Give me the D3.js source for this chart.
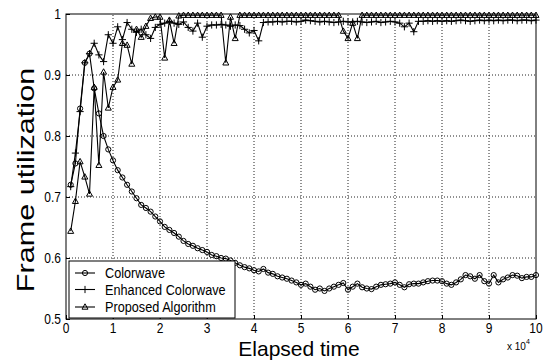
<!DOCTYPE html>
<html>
<head>
<meta charset="utf-8">
<script src="https://d3js.org/d3.v7.min.js"></script>
<style>
  body { margin: 0; background: #fff; }
  svg { display: block; font-family: "Liberation Sans", Arial, sans-serif; }
  .grid line { stroke: #222; stroke-dasharray: 1,2; stroke-width: 1; }
  .series path.line { fill: none; stroke: #000; stroke-width: 1.1; }
  .mark { fill: none; stroke: #000; stroke-width: 1; }
</style>
</head>
<body>
<div id="chart"></div>
<script>
// sample times (every 1000 units)
const elapsed = d3.range(1, 101).map(i => i * 1000);

const colorwave = [
  0.720, 0.755, 0.845, 0.920, 0.935, 0.878, 0.837, 0.800, 0.778, 0.760,
  0.744, 0.732, 0.720, 0.709, 0.698, 0.687, 0.682, 0.676, 0.668, 0.660,
  0.651, 0.646, 0.641, 0.635, 0.628, 0.623, 0.620, 0.616, 0.613, 0.610,
  0.605, 0.603, 0.600, 0.599, 0.596, 0.592, 0.588, 0.585, 0.583, 0.580,
  0.578, 0.582, 0.576, 0.574, 0.570, 0.568, 0.566, 0.563, 0.560, 0.556,
  0.558, 0.553, 0.548, 0.550, 0.546, 0.550, 0.553, 0.556, 0.559, 0.548,
  0.553, 0.558, 0.552, 0.550, 0.549, 0.553, 0.556, 0.557, 0.558, 0.560,
  0.556, 0.552, 0.557, 0.558, 0.558, 0.560, 0.562, 0.563, 0.563, 0.562,
  0.558, 0.556, 0.560, 0.565, 0.572, 0.570, 0.566, 0.572, 0.562, 0.558,
  0.572, 0.560, 0.565, 0.568, 0.572, 0.571, 0.567, 0.569, 0.569, 0.572
];

const enhanced = [
  0.717, 0.772, 0.840, 0.920, 0.935, 0.952, 0.933, 0.922, 0.966, 0.952,
  0.979, 0.958, 0.986, 0.975, 0.970, 0.975, 0.966, 0.960, 0.978, 0.983,
  0.985, 0.988, 0.985, 0.983, 0.987, 0.978, 0.972, 0.985, 0.962, 0.980,
  0.982, 0.982, 0.983, 0.982, 0.980, 0.982, 0.981, 0.975, 0.969, 0.973,
  0.956, 0.986, 0.987, 0.987, 0.988, 0.987, 0.988, 0.988, 0.987, 0.988,
  0.990, 0.989, 0.988, 0.987, 0.988, 0.987, 0.986, 0.987, 0.988, 0.987,
  0.987, 0.988, 0.987, 0.986, 0.987, 0.988, 0.986, 0.987, 0.988, 0.987,
  0.985, 0.979, 0.985, 0.971, 0.988, 0.988, 0.989, 0.988, 0.989, 0.988,
  0.989, 0.988, 0.989, 0.990, 0.989, 0.988, 0.989, 0.990, 0.989, 0.990,
  0.989, 0.990, 0.989, 0.990, 0.990, 0.989, 0.990, 0.990, 0.989, 0.990
];

const proposed = [
  0.644, 0.693, 0.758, 0.733, 0.705, 0.880, 0.752, 0.905, 0.846, 0.880,
  0.892, 0.952, 0.949, 0.918, 0.975, 0.962, 0.980, 0.993, 0.995, 0.995,
  0.928, 0.990, 0.952, 0.997, 0.998, 0.998, 0.998, 0.998, 0.998, 0.998,
  0.998, 0.998, 0.998, 0.920, 0.995, 0.960, 0.998, 0.998, 0.998, 0.998,
  0.998, 0.998, 0.998, 0.998, 0.998, 0.998, 0.998, 0.998, 0.998, 0.998,
  0.998, 0.998, 0.998, 0.998, 0.998, 0.998, 0.998, 0.998, 0.972, 0.960,
  0.985, 0.960, 0.998, 0.998, 0.998, 0.998, 0.998, 0.998, 0.998, 0.998,
  0.998, 0.998, 0.998, 0.998, 0.998, 0.998, 0.998, 0.998, 0.998, 0.998,
  0.998, 0.998, 0.998, 0.998, 0.998, 0.998, 0.998, 0.998, 0.998, 0.998,
  0.998, 0.998, 0.998, 0.998, 0.998, 0.998, 0.998, 0.998, 0.998, 0.998
];

const seriesNames = ["Colorwave", "Enhanced Colorwave", "Proposed Algorithm"];
const seriesMarkers = ["circle", "plus", "triangle"];
const xTicks = [0, 1, 2, 3, 4, 5, 6, 7, 8, 9, 10].map(v => v * 1e4);
const yTicks = [0.5, 0.6, 0.7, 0.8, 0.9, 1];

let w = 547, h = 361;
let m = { left: 66, top: 14, right: 11, bottom: 42 };

let svg = d3.select("#chart").append("svg")
    .attr("width", w)
    .attr("height", h);

let x = d3.scaleLinear().domain([0, 1e5]).range([m.left, w - m.right]);
let y = d3.scaleLinear().domain([0.5, 1]).range([h - m.bottom, m.top]);

// dotted grid
let grid = svg.append("g").attr("class", "grid");
grid.selectAll("line.vx")
    .data(xTicks.slice(1, -1))
    .enter().append("line")
    .attr("x1", d => x(d)).attr("x2", d => x(d))
    .attr("y1", y(0.5)).attr("y2", y(1));
grid.selectAll("line.hy")
    .data(yTicks.slice(1, -1))
    .enter().append("line")
    .attr("x1", x(0)).attr("x2", x(1e5))
    .attr("y1", d => y(d)).attr("y2", d => y(d));

// axes, ticks pointing inward
svg.append("g")
    .attr("transform", "translate(0," + y(0.5) + ")")
    .call(d3.axisBottom(x).tickValues(xTicks).tickSize(-4).tickFormat(""))
    .call(g => g.select(".domain").remove());
svg.append("g")
    .attr("transform", "translate(" + x(0) + ",0)")
    .call(d3.axisLeft(y).tickValues(yTicks).tickSize(-4).tickFormat(""))
    .call(g => g.select(".domain").remove());

svg.append("rect")
    .attr("x", x(0)).attr("y", y(1))
    .attr("width", x(1e5) - x(0)).attr("height", y(0.5) - y(1))
    .attr("fill", "none").attr("stroke", "#000").attr("stroke-width", 1);

// tick labels (the scan is stretched vertically)
let sy = 1.2;
svg.selectAll("g.xl")
    .data(xTicks)
    .enter().append("g")
    .attr("transform", d => "translate(" + x(d) + "," + 333 + ")")
    .append("text")
    .attr("transform", "scale(1," + sy + ")")
    .attr("text-anchor", "middle")
    .attr("font-size", 12)
    .text(d => d / 1e4);

svg.selectAll("g.yl")
    .data(yTicks)
    .enter().append("g")
    .attr("transform", d => "translate(" + (x(0) - 5) + "," + (y(d) + 5) + ")")
    .append("text")
    .attr("transform", "scale(1," + sy + ")")
    .attr("text-anchor", "end")
    .attr("font-size", 12)
    .text(d => d);

// axis titles
svg.append("text")
    .attr("x", 299).attr("y", 356)
    .attr("text-anchor", "middle")
    .attr("font-size", 21)
    .text("Elapsed time");

svg.append("g")
    .attr("transform", "translate(34,180) rotate(-90)")
    .append("text")
    .attr("transform", "scale(1.33,1)")
    .attr("text-anchor", "middle")
    .attr("font-size", 23)
    .text("Frame utilization");

let mult = svg.append("text")
    .attr("x", 507).attr("y", 350)
    .attr("font-size", 10);
mult.append("tspan").text("x 10");
mult.append("tspan").attr("dy", -6).attr("font-size", 7).text("4");

// series
function markerPath(type, s) {
    if (type == "circle") return d3.symbol(d3.symbolCircle, Math.PI * s * s)();
    if (type == "plus") return "M" + (-s - 1) + ",0H" + (s + 1) + "M0," + (-s - 1) + "V" + (s + 1);
    return "M0," + (-s - 0.6) + "L" + (s + 0.4) + "," + (s - 0.4) + "L" + (-s - 0.4) + "," + (s - 0.4) + "Z";
}

let data = [colorwave, enhanced, proposed];
let line = d3.line().x((d, i) => x(elapsed[i])).y(d => y(d));

let series = svg.selectAll("g.series")
    .data(data)
    .enter().append("g")
    .attr("class", "series");

series.append("path")
    .attr("class", "line")
    .attr("d", d => line(d));

series.each(function(vals, k) {
    d3.select(this).selectAll("path.mark")
        .data(vals)
        .enter().append("path")
        .attr("class", "mark")
        .attr("transform", (d, i) => "translate(" + x(elapsed[i]) + "," + y(d) + ")")
        .attr("d", markerPath(seriesMarkers[k], 2.6));
});

// legend
let lg = svg.append("g").attr("transform", "translate(69,261)");
lg.append("rect")
    .attr("width", 166).attr("height", 57)
    .attr("fill", "#fff").attr("stroke", "#000").attr("stroke-width", 1);
let rows = lg.selectAll("g.row")
    .data(seriesNames)
    .enter().append("g")
    .attr("transform", (d, i) => "translate(0," + [12, 28.5, 46][i] + ")");
rows.append("line")
    .attr("x1", 6).attr("x2", 26)
    .attr("stroke", "#000").attr("stroke-width", 1.1);
rows.append("path")
    .attr("class", "mark")
    .attr("transform", "translate(16,0)")
    .attr("d", (d, i) => markerPath(seriesMarkers[i], 2.6));
rows.append("g")
    .attr("transform", "translate(36,5)")
    .append("text")
    .attr("transform", "scale(1,1.2)")
    .attr("font-size", 12.7)
    .text(d => d);
</script>
</body>
</html>
